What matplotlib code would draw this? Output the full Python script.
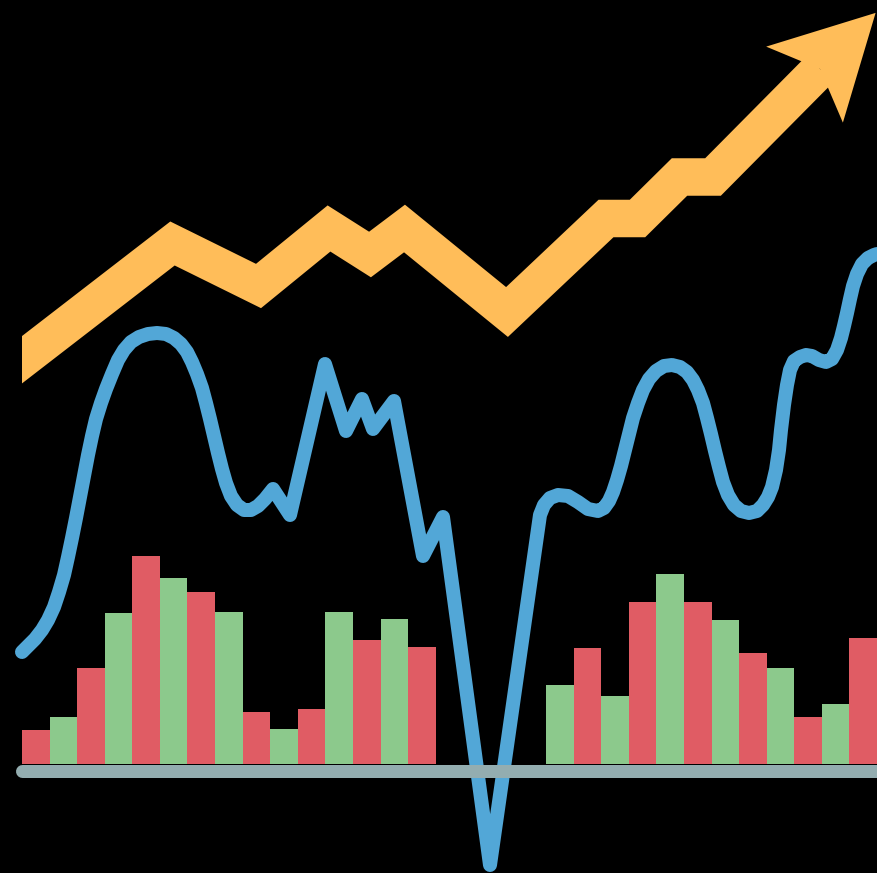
import numpy as np
import matplotlib
matplotlib.use("Agg")
import matplotlib.pyplot as plt
from matplotlib.patches import Rectangle, Polygon

# canvas units = pixels, y measured downward from the top
W, H = 877, 873
BASE = 764          # bottom of the bars
AXIS_Y = 770.5      # grey baseline

# bar heights (pixels above BASE), None = empty slot
bar_heights = [34, 47, 96, 151, 208, 186, 172, 152, 52, 35, 55, 152, 124, 145, 117,
               None, None, None, None,
               79, 116, 68, 162, 190, 162, 144, 111, 96, 47, 60, 126]
bar_colors = ["#E05C64", "#8CC98C"]

# blue wavy line
blue_x = [22, 28, 35, 42, 48, 54, 59, 64, 68, 72, 76, 80, 84, 88, 92, 96, 101, 106, 112,
          118, 124, 131, 139, 148, 157, 166, 174, 181, 187, 192, 197, 202, 206, 210, 214,
          218, 222, 226, 231, 237, 244, 251, 258, 265, 273,
          290, 325, 346, 362, 373, 394, 423, 443, 490,
          540, 544, 550, 558, 568, 578, 588, 598, 604, 609, 613, 617, 621, 625, 629, 633,
          638, 643, 649, 656, 664, 672, 680, 687, 693, 698, 703, 707, 711, 715, 719, 723,
          728, 734, 741, 749, 757, 763, 768, 772, 776, 779, 781, 784, 787, 790, 794, 800,
          806, 812, 819, 826, 832, 837, 841, 844, 847, 850, 853, 857, 862, 868, 874, 877]
blue_y = [652, 646, 639, 630, 620, 607, 592, 575, 557, 538, 518, 497, 476, 455, 436, 419, 403, 389, 374,
          360, 350, 342, 337, 334, 333, 334, 338, 344, 352, 362, 374, 388, 403, 419, 436,
          453, 469, 483, 496, 505, 510, 510, 506, 499, 489,
          515, 364, 431, 399, 429, 401, 556, 517, 865,
          515, 505, 498, 495, 496, 502, 509, 511, 508, 501, 492, 480, 466, 450, 434, 418,
          403, 390, 379, 371, 366, 365, 367, 372, 380, 390, 403, 418, 434, 451, 467, 482,
          495, 505, 511, 513, 511, 505, 497, 487, 470, 450, 430, 405, 385, 370, 361, 357,
          355, 356, 360, 362, 359, 350, 338, 326, 313, 299, 286, 274, 264, 258, 255, 254]

# orange trend arrow (centre line) and its head
trend_x = [10, 172.5, 258.5, 329, 370, 404.5, 507, 606, 637.5, 679.5, 713, 820]
trend_y = [369, 243.5, 286, 228.5, 254.5, 228.5, 312, 218.5, 218.5, 177, 177, 69]
head_len, head_back, head_half = 79, 22, 54

fig = plt.figure(figsize=(W / 100, H / 100), dpi=100, facecolor="black")
ax = fig.add_axes([0, 0, 1, 1])
ax.set_facecolor("black")
ax.set_xlim(0, W)
ax.set_ylim(H, 0)
ax.axis("off")

px = 72 / 100  # points per pixel

# bars
slot = (W - 22) / len(bar_heights)
for i, h in enumerate(bar_heights):
    if h is None:
        continue
    ax.bar(22 + slot * (i + 0.5), h, width=slot, bottom=BASE - h,
           color=bar_colors[i % 2], linewidth=0, zorder=1)

# blue line
ax.plot(blue_x, blue_y, color="#52A7D7", lw=14 * px, solid_capstyle="round",
        solid_joinstyle="round", zorder=2)

# grey baseline
ax.plot([21.5, W + 20], [AXIS_Y, AXIS_Y], color="#93ADB0", lw=13 * px,
        solid_capstyle="round", zorder=3)

# orange arrow shaft, cut vertically at x=22
shaft, = ax.plot(trend_x, trend_y, color="#FFBD59", lw=37.5 * px,
                 solid_capstyle="butt", solid_joinstyle="miter", zorder=4)
clip = Rectangle((22, 0), W, H, transform=ax.transData, facecolor="none", edgecolor="none")
ax.add_patch(clip)
shaft.set_clip_path(clip)

# arrow head from the last shaft direction
end = np.array([trend_x[-1], trend_y[-1]])
d = end - np.array([trend_x[-2], trend_y[-2]])
d = d / np.hypot(*d)
n = np.array([d[1], -d[0]])
head = Polygon([end + d * head_len,
                end - d * head_back + n * head_half,
                end,
                end - d * head_back - n * head_half],
               closed=True, facecolor="#FFBD59", edgecolor="none", zorder=5)
ax.add_patch(head)

fig.savefig("out.png", dpi=100, facecolor="black")
